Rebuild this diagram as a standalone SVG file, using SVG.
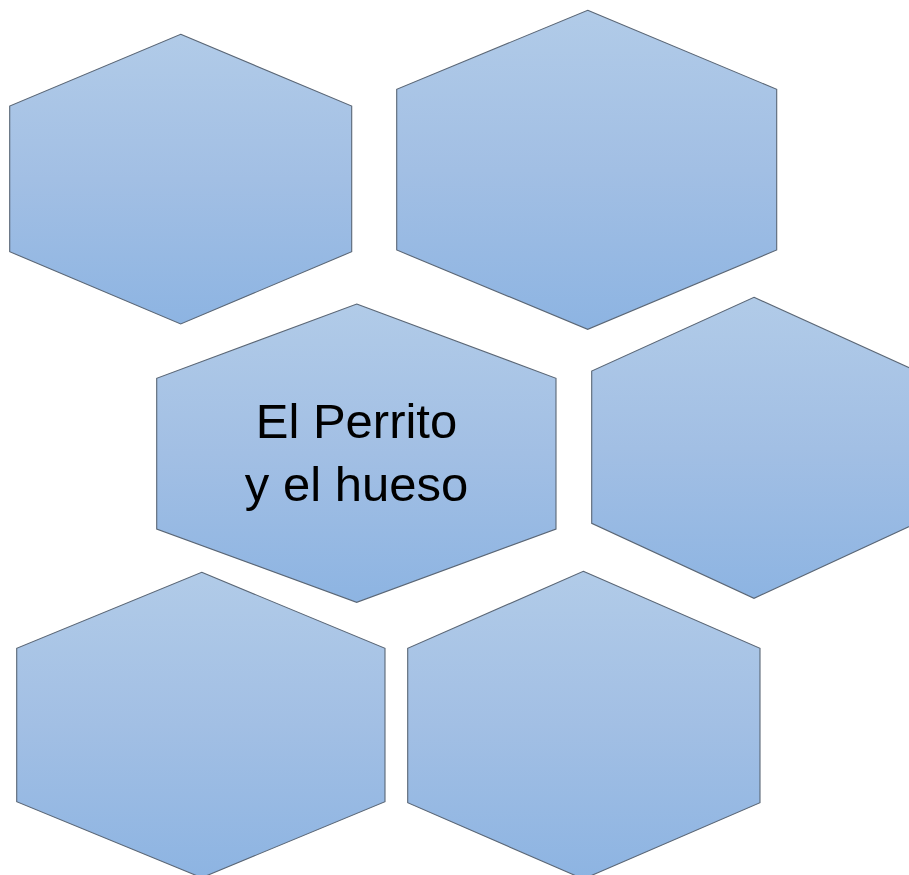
<svg xmlns="http://www.w3.org/2000/svg" width="909" height="875" viewBox="0 0 909 875">
<defs>
<linearGradient id="g" x1="0" y1="0" x2="0" y2="1">
<stop offset="0" stop-color="#b1cbe8"/>
<stop offset="0.5" stop-color="#a2bfe4"/>
<stop offset="1" stop-color="#8db4e2"/>
</linearGradient>
</defs>
<style>
.hex{fill:url(#g);stroke:#5a6675;stroke-width:1.1;stroke-linejoin:miter}
.lbl{font-family:"Liberation Sans","Open Sans",Arial,sans-serif;font-size:49px;fill:#000;text-anchor:middle}
</style>
<rect width="909" height="875" fill="#ffffff"/>
<g id="hex1"><polygon class="hex" points="180.7,34.3 351.7,106 351.7,251.7 180.7,324 9.7,251.7 9.7,106"/></g>
<g id="hex2"><polygon class="hex" points="587.7,10.3 776.7,89.3 776.7,250 587.7,329.3 396.7,250 396.7,89.3"/></g>
<g id="hex3"><polygon class="hex" points="356.7,304 556,378.3 556,529 356.7,602.3 156.7,529 156.7,378.3"/>
<text class="lbl" x="356.5" y="438">El Perrito</text>
<text class="lbl" x="356.5" y="500.5">y el hueso</text></g>
<g id="hex4"><polygon class="hex" points="754,297.3 916.3,371 916.3,523.3 754,598.3 591.7,523.3 591.7,371"/></g>
<g id="hex5"><polygon class="hex" points="201.7,572.3 385,648.3 385,801.7 201.7,877.7 16.7,801.7 16.7,648.3"/></g>
<g id="hex6"><polygon class="hex" points="583.3,571.3 760,648.3 760,802.7 583.3,879 407.7,802.7 407.7,648.3"/></g>
<g id="connectors"></g>
</svg>
